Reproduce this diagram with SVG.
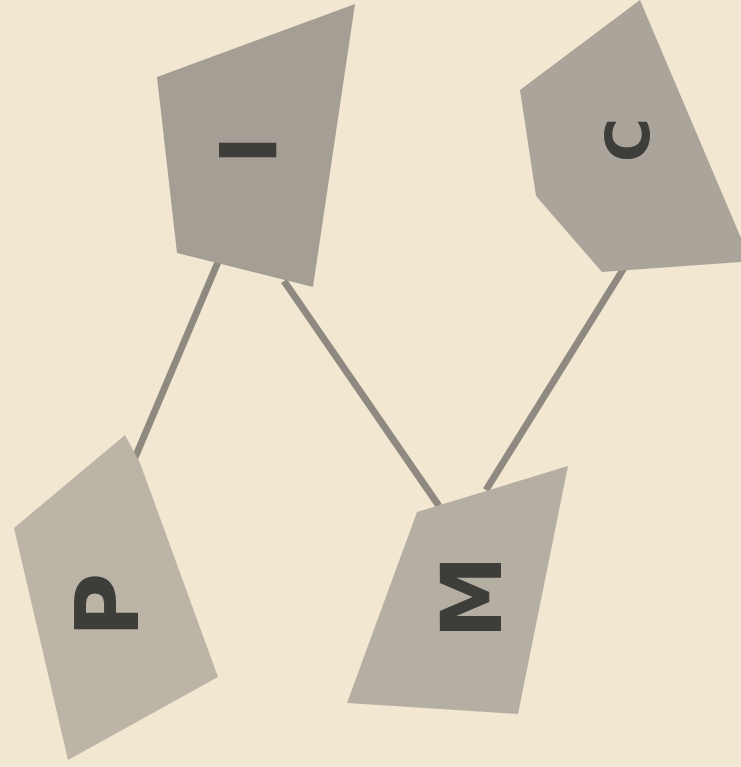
<svg xmlns="http://www.w3.org/2000/svg" width="741" height="767" viewBox="0 0 741 767">
<style>
.edge{stroke:#8e8981;stroke-width:7;stroke-linecap:butt;fill:none}
.lbl{font-family:"DejaVu Sans","Liberation Sans",sans-serif;font-weight:bold;fill:#3d3e3a;text-anchor:middle;dominant-baseline:central}
</style>
<rect width="741" height="767" fill="#f2e7d1"/>
<g id="connectors">
<line class="edge" x1="218" y1="262" x2="134" y2="460"/>
<line class="edge" x1="284" y1="281" x2="439" y2="506"/>
<line class="edge" x1="624" y1="268" x2="486" y2="490"/>
</g>
<g id="node-I">
<polygon points="157,77 355,4 313,287 177,253" fill="#a49e95"/>
<text class="lbl" transform="translate(246,150) rotate(90)" font-size="78">I</text>
</g>
<g id="node-C">
<polygon points="520,90 640,0 741,238 741,262 602,272 536,196" fill="#aaa49b"/>
<text class="lbl" transform="translate(628,140) rotate(-90)" font-size="60">C</text>
</g>
<g id="node-P">
<polygon points="125,435 140,463 218,677 68,760 14,528" fill="#bcb4a7"/>
<text class="lbl" transform="translate(107,605) rotate(-90)" font-size="88">P</text>
</g>
<g id="node-M">
<polygon points="417,512 568,466 518,714 347,703" fill="#b5aea2"/>
<text class="lbl" transform="translate(472,597) rotate(-90)" font-size="84">M</text>
</g>
</svg>
